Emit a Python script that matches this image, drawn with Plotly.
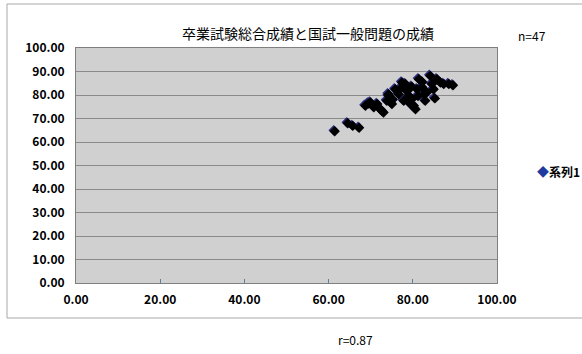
import plotly.graph_objects as go

# 卒業試験総合成績 (x) と 国試一般問題の成績 (y), n=47
sotsu = [61.2, 64.3, 65.5, 67.0, 68.5, 69.2, 69.7, 70.5, 71.3, 72.0,
         72.4, 72.8, 73.6, 74.0, 74.0, 74.8, 75.0, 75.6, 76.4, 77.2,
         78.0, 77.6, 78.4, 78.8, 79.2, 79.6, 80.0, 80.4, 80.8, 81.2,
         81.0, 82.0, 82.4, 82.7, 83.1, 83.9, 84.3, 84.7, 85.5, 86.3,
         85.0, 87.1, 88.3, 89.3, 77.0, 79.5, 82.0]
kokushi = [65.0, 68.4, 67.3, 66.5, 75.9, 76.8, 77.3, 75.2, 76.6, 74.5,
           73.7, 73.0, 78.0, 80.1, 80.8, 76.6, 78.5, 82.9, 80.8, 85.8,
           85.1, 78.0, 82.0, 80.1, 76.6, 78.7, 75.9, 74.4, 82.9, 87.2,
           80.0, 83.7, 80.8, 78.0, 81.5, 88.6, 85.1, 82.9, 87.2, 85.8,
           79.0, 85.1, 85.1, 84.6, 83.5, 84.0, 86.0]
ticks_x = [0, 20, 40, 60, 80, 100]
ticks_y = list(range(0, 101, 10))

FONT = "Noto Sans CJK JP"
NAVY = "#2b2f80"
W, H = 582, 354
ML, MR, MT, MB = 76, 85, 48, 71
PW, PH = W - ML - MR, H - MT - MB


def px(x):
    return (x - ML) / PW


def py(y):
    return (H - MB - y) / PH


fig = go.Figure()

# drop shadow under each marker (same data on slightly shifted axes)
fig.add_trace(go.Scatter(
    x=sotsu, y=kokushi, mode="markers", xaxis="x2", yaxis="y2",
    marker=dict(symbol="diamond", size=8, color="#000000"),
    showlegend=False, hoverinfo="skip"))

fig.add_trace(go.Scatter(
    x=sotsu, y=kokushi, mode="markers", name="系列1",
    marker=dict(symbol="diamond", size=8, color=NAVY),
    showlegend=False))

tickfont = dict(family=FONT, size=12, color="#000", weight="bold")
fig.update_layout(
    width=W, height=H,
    margin=dict(l=ML, r=MR, t=MT, b=MB),
    paper_bgcolor="white", plot_bgcolor="#d0d0d0",
    font=dict(family=FONT, color="#000000", size=12),
    xaxis=dict(range=[0, 100], tickvals=ticks_x, tickformat=".2f",
               showgrid=False, zeroline=False, showline=True,
               linecolor="#7f7f7f", linewidth=1, mirror=True,
               ticks="inside", ticklen=4, tickcolor="#5a7fa0",
               ticklabelstandoff=6, tickfont=tickfont),
    yaxis=dict(range=[0, 100], tickvals=ticks_y, tickformat=".2f",
               showgrid=True, gridcolor="#8a8a8a", gridwidth=1,
               zeroline=False, showline=True, linecolor="#7f7f7f",
               linewidth=1, mirror=True, ticks="",
               ticklabelstandoff=8, tickfont=tickfont),
    xaxis2=dict(range=[-0.25, 99.75], overlaying="x", visible=False),
    yaxis2=dict(range=[0.45, 100.45], overlaying="y", visible=False),
    showlegend=False,
)

# outer chart frame
fig.add_shape(type="rect", xref="paper", yref="paper",
              x0=px(7), x1=px(590), y0=py(318), y1=py(4),
              line=dict(color="#a8a8a8", width=1), layer="below")


def label(text, x, y, size=12, weight="normal", xanchor="center"):
    fig.add_annotation(text=text, xref="paper", yref="paper",
                       x=px(x), y=py(y), xanchor=xanchor, yanchor="middle",
                       showarrow=False,
                       font=dict(family=FONT, size=size, color="#000",
                                 weight=weight))


label("卒業試験総合成績と国試一般問題の成績", 308, 33, size=14)
label("n=47", 532, 36)
label("r=0.87", 355, 339)
# legend entry: series marker + name
label(f"<span style='color:#1f3a9e'>◆</span>系列1", 535, 171,
      weight="bold", xanchor="left")

fig.write_html("out.html")
